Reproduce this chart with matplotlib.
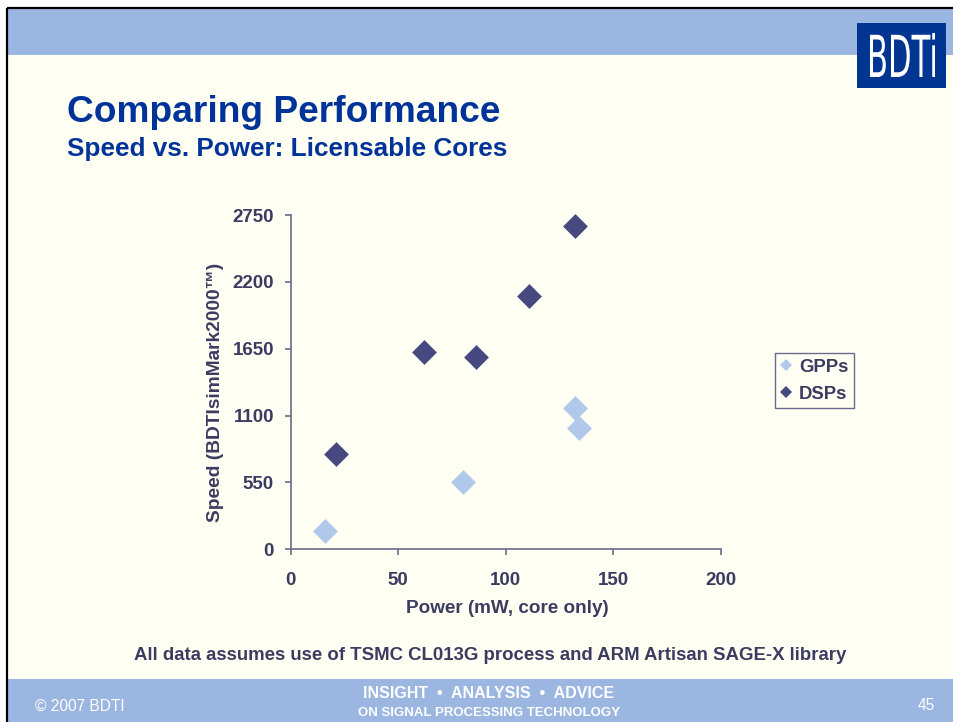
import matplotlib
matplotlib.use("Agg")
import matplotlib.pyplot as plt
from matplotlib.patches import Rectangle, PathPatch
from matplotlib.lines import Line2D
from matplotlib.textpath import TextPath
from matplotlib.font_manager import FontProperties
from matplotlib.transforms import Affine2D

plt.rcParams['font.family'] = ['Liberation Sans', 'DejaVu Sans']

# data
gpp_power = [16, 80, 132, 134]
gpp_speed = [150, 550, 1165, 1000]
dsp_power = [21, 62, 86, 111, 132]
dsp_speed = [780, 1620, 1580, 2080, 2660]
x_ticks = [0, 50, 100, 150, 200]
y_ticks = [0, 550, 1100, 1650, 2200, 2750]

# colours
bg_col = "#FFFFF3"
band_col = "#9BB6E0"
title_col = "#003399"
axis_txt = "#3C3C62"
axis_line = "#6A6A8C"
gpp_col = "#B0C8EA"
dsp_col = "#464880"

W, H = 954, 722
fig = plt.figure(figsize=(W / 100, H / 100), dpi=100)
fig.patch.set_facecolor("white")

# background layer in pixel coords (y pointing down)
bg = fig.add_axes([0, 0, 1, 1])
bg.set_xlim(0, W)
bg.set_ylim(H, 0)
bg.axis("off")

bg.add_patch(Rectangle((8, 9), W - 8, H - 9, facecolor=bg_col, edgecolor="none"))
bg.add_patch(Rectangle((8, 9), W - 8, 46, facecolor=band_col, edgecolor="none"))
bg.add_patch(Rectangle((8, 679), W - 8, H - 679, facecolor=band_col, edgecolor="none"))
bg.plot([7, 7], [8, H], color="black", lw=1.6, solid_capstyle="butt")
bg.plot([7, W], [8, 8], color="black", lw=1.6, solid_capstyle="butt")

# logo
bg.add_patch(Rectangle((857, 23), 89, 65, facecolor="#003591", edgecolor="none"))
tp = TextPath((0, 0), "BDTi", size=1, prop=FontProperties(family="DejaVu Sans"))
ext = tp.get_extents()
sx = 65 / ext.width
sy = 44 / ext.height
tr = Affine2D().translate(-ext.x0, -ext.y0).scale(sx, -sy).translate(870, 77) + bg.transData
bg.add_patch(PathPatch(tp, transform=tr, facecolor="white", edgecolor="none"))

# titles
bg.text(67, 112, "Comparing Performance", fontsize=26.7, fontweight="bold",
        color=title_col, va="center", ha="left")
bg.text(67, 149, "Speed vs. Power: Licensable Cores", fontsize=18.8, fontweight="bold",
        color=title_col, va="center", ha="left")

# footnote and footer
bg.text(490, 656, "All data assumes use of TSMC CL013G process and ARM Artisan SAGE-X library",
        fontsize=13.4, fontweight="bold", color=axis_txt, ha="center", va="center")
bg.text(35, 706, "\u00a9 2007 BDTI", fontsize=11.2, color="white", ha="left", va="center")
bg.text(489, 694, "INSIGHT  \u2022  ANALYSIS  \u2022  ADVICE", fontsize=11.5, fontweight="bold",
        color="white", ha="center", va="center")
bg.text(489, 713, "ON SIGNAL PROCESSING TECHNOLOGY", fontsize=9.5, fontweight="bold",
        color="white", ha="center", va="center")
bg.text(935, 706, "45", fontsize=11.2, color="white", ha="right", va="center")

# chart
x0, x1 = 290.7, 720.7
y0, y1 = 549.3, 215.0
ax = fig.add_axes([x0 / W, (H - y0) / H, (x1 - x0) / W, (y0 - y1) / H])
ax.set_facecolor("none")
ax.set_xlim(0, 200)
ax.set_ylim(0, 2750)
for s in ["top", "right"]:
    ax.spines[s].set_visible(False)
for s in ["left", "bottom"]:
    ax.spines[s].set_color(axis_line)
    ax.spines[s].set_linewidth(1.2)

ax.scatter(gpp_power, gpp_speed, marker="D", s=160, color=gpp_col, linewidths=0,
           clip_on=False, zorder=3)
ax.scatter(dsp_power, dsp_speed, marker="D", s=160, color=dsp_col, linewidths=0,
           clip_on=False, zorder=3)

ax.set_xticks(x_ticks)
ax.set_yticks(y_ticks)
ax.tick_params(axis="both", direction="out", length=4, width=1.2, color=axis_line,
               labelcolor=axis_txt, labelsize=13.5)
ax.tick_params(axis="x", pad=12)
ax.tick_params(axis="y", pad=8)
for lab in ax.get_xticklabels() + ax.get_yticklabels():
    lab.set_fontweight("bold")

ax.text(0.503, -0.176, "Power (mW, core only)", transform=ax.transAxes, fontsize=13.6,
        fontweight="bold", color=axis_txt, ha="center", va="center")
ax.text(-0.176, 0.47, "Speed (BDTIsimMark2000\u2122)", transform=ax.transAxes, fontsize=13.8,
        fontweight="bold", color=axis_txt, ha="center", va="center", rotation=90)

handles = [
    Line2D([], [], marker="D", linestyle="none", markersize=6, color=gpp_col, markeredgewidth=0),
    Line2D([], [], marker="D", linestyle="none", markersize=6, color=dsp_col, markeredgewidth=0),
]
leg = fig.legend(handles, ["GPPs", "DSPs"], loc="upper left",
                 bbox_to_anchor=(775 / W, (H - 353) / H), fancybox=False,
                 framealpha=1, facecolor=bg_col, edgecolor=axis_line,
                 handlelength=0.6, handletextpad=0.4, borderpad=0.3,
                 labelspacing=0.55, borderaxespad=0,
                 prop={"weight": "bold", "size": 13.3})
leg.get_frame().set_linewidth(1.0)
for t in leg.get_texts():
    t.set_color(axis_txt)

fig.savefig("out.png", dpi=100, facecolor=fig.get_facecolor())
